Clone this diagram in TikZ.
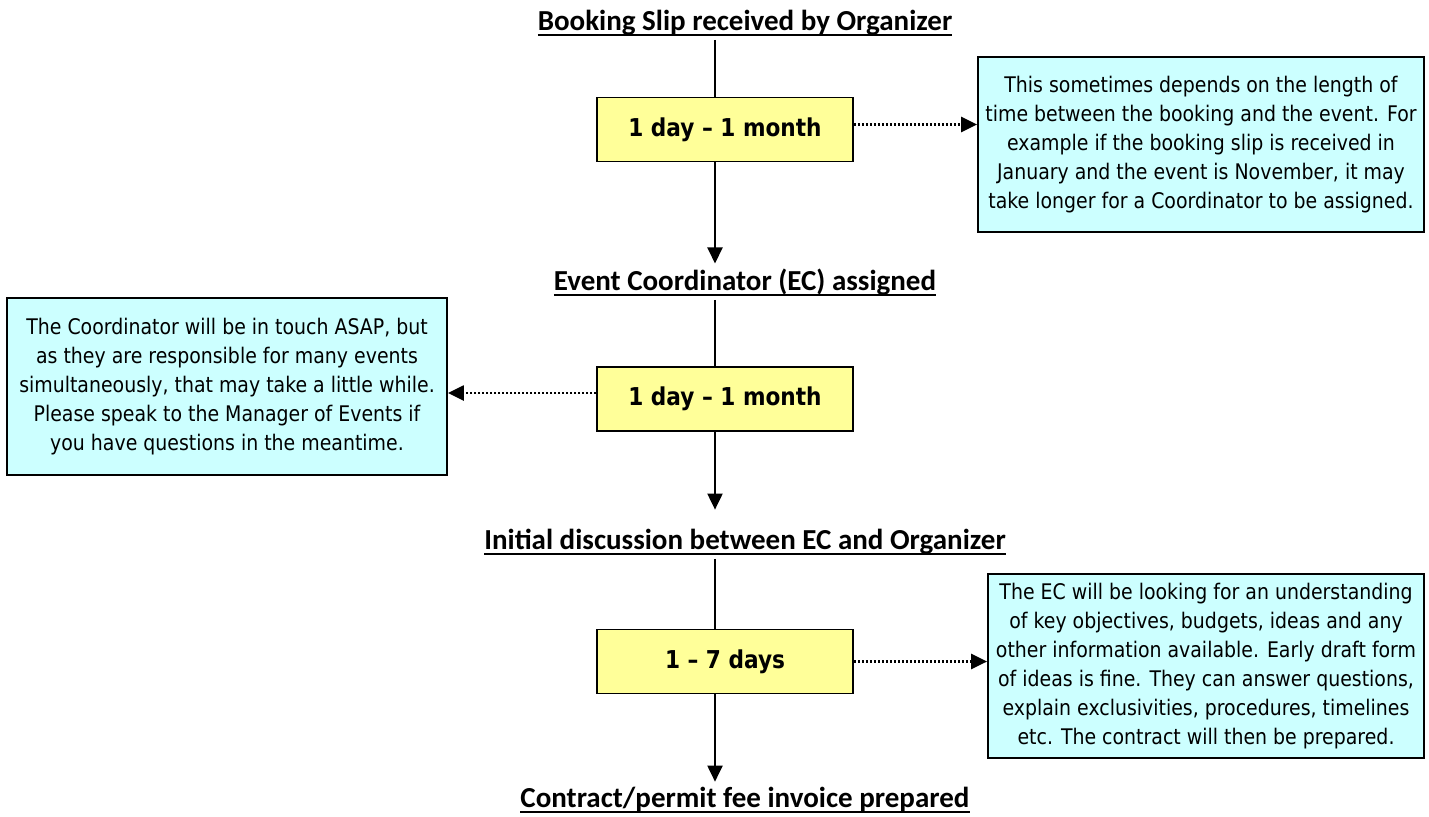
\documentclass[tikz,border=0pt]{standalone}
\usepackage{fontspec}
\setmainfont{Carlito}
\newfontfamily\notefont[FakeStretch=0.88]{DejaVu Sans}
\usetikzlibrary{arrows.meta, positioning}

\definecolor{spanfill}{HTML}{FFFF99}
\definecolor{notefill}{HTML}{CCFFFF}

\begin{document}
\begin{tikzpicture}[x=0.5pt, y=-0.5pt,
    heading/.style={inner sep=0pt, outer sep=2.5pt, anchor=base,
        font=\fontsize{14.5pt}{17pt}\selectfont\bfseries},
    span box/.style={draw, line width=0.9pt, fill=spanfill,
        minimum width=128pt, minimum height=32pt,
        font=\notefont\bfseries\fontsize{12.3pt}{14pt}\selectfont},
    note box/.style={draw, line width=0.9pt, fill=notefill, align=center,
        font=\notefont\fontsize{10.75pt}{14.5pt}\selectfont},
    flow/.style={line width=1pt, -{Triangle[length=8pt, width=7.5pt]}},
    aside/.style={line width=1.2pt, dash pattern=on 1pt off 1pt,
        -{Triangle[length=8pt, width=7.5pt]}},
    rule/.style={line width=1pt, shorten <=2.5pt, shorten >=2.5pt}
]
    \useasboundingbox (0,0) rectangle (1429,816);
    \coordinate (spine) at (715,0);

    % stages
    \node[heading] (t1) at (745,30) {Booking Slip received by Organizer};
    \node[heading] (t2) at (745,290) {Event Coordinator (EC) assigned};
    \node[heading] (t3) at (745,549) {Initial discussion between EC and Organizer};
    \node[heading] (t4) at (745,807) {Contract/permit fee invoice prepared};

    \foreach \t in {t1, t2, t3, t4}
        \draw[rule] ([yshift=-2.5pt]\t.base west) -- ([yshift=-2.5pt]\t.base east);

    % time spans
    \node[span box] (s1) at (725,129.5) {1 day – 1 month};
    \node[span box] (s2) at (725,399) {1 day – 1 month};
    \node[span box] (s3) at (725,661.5) {1 – 7 days};

    % notes
    \node[note box, minimum width=223pt, minimum height=87.5pt] (n1) at (1201,144.5)
        {This sometimes depends on the length of\\
         time between the booking and the event. For\\
         example if the booking slip is received in\\
         January and the event is November, it may\\
         take longer for a Coordinator to be assigned.};
    \node[note box, minimum width=220pt, minimum height=88.5pt] (n2) at (227,386.5)
        {The Coordinator will be in touch ASAP, but\\
         as they are responsible for many events\\
         simultaneously, that may take a little while.\\
         Please speak to the Manager of Events if\\
         you have questions in the meantime.};
    \node[note box, minimum width=218pt, minimum height=92pt] (n3) at (1206,666)
        {The EC will be looking for an understanding\\
         of key objectives, budgets, ideas and any\\
         other information available. Early draft form\\
         of ideas is fine. They can answer questions,\\
         explain exclusivities, procedures, timelines\\
         etc. The contract will then be prepared.};

    % main flow
    \draw[line width=1pt] (t1.south -| spine) -- (s1.north -| spine);
    \draw[flow] (s1.south -| spine) -- (t2.north -| spine);
    \draw[line width=1pt] (t2.south -| spine) -- (s2.north -| spine);
    \draw[flow, shorten >=7pt] (s2.south -| spine) -- (t3.north -| spine);
    \draw[line width=1pt] (t3.south -| spine) -- (s3.north -| spine);
    \draw[flow] (s3.south -| spine) -- (t4.north -| spine);

    % side notes
    \draw[aside] ([yshift=2.5pt]s1.east) -- ([yshift=2.5pt]s1.east -| n1.west);
    \draw[aside] ([yshift=3pt]s2.west) -- ([yshift=3pt]s2.west -| n2.east);
    \draw[aside] (s3.east) -- (s3.east -| n3.west);
\end{tikzpicture}
\end{document}
